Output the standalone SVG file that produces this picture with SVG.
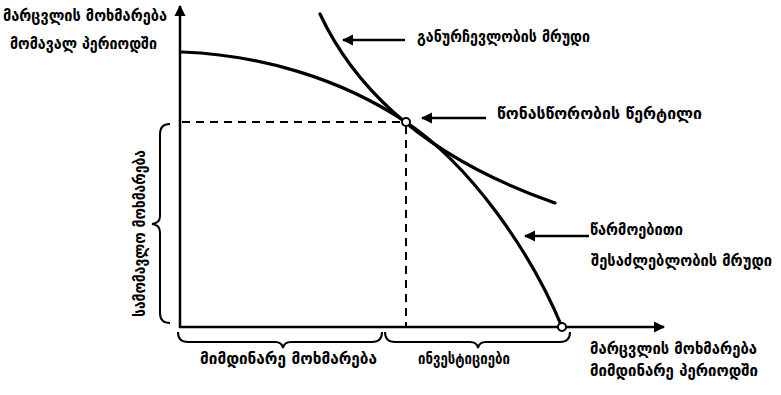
<svg xmlns="http://www.w3.org/2000/svg" width="781" height="395" viewBox="0 0 781 395">
<style>
.t{font-family:"DejaVu Sans",sans-serif;font-size:15.5px;font-weight:bold;fill:#000}
.ax{stroke:#000;stroke-width:2.5;fill:none}
.cv{stroke:#000;stroke-width:3.2;fill:none;stroke-linecap:round}
.ds{stroke:#000;stroke-width:2;fill:none;stroke-dasharray:8,6}
.br{stroke:#000;stroke-width:2;fill:none}
.ar{stroke:#000;stroke-width:2.5;fill:none}
.pt{fill:#fff;stroke:#000;stroke-width:2}
</style>
<defs>
<marker id="ah" viewBox="0 0 10 10" refX="9" refY="5" markerWidth="4.5" markerHeight="4.5" orient="auto" markerUnits="strokeWidth">
<path d="M0,0 L10,5 L0,10 z" fill="#000"/>
</marker>
</defs>
<g id="connectors">
<line class="ax" x1="180" y1="328" x2="180" y2="6" marker-end="url(#ah)"/>
<line class="ax" x1="179" y1="327" x2="664" y2="327" marker-end="url(#ah)"/>
<line class="ds" x1="182" y1="122" x2="402" y2="122"/>
<line class="ds" x1="406" y1="126" x2="406" y2="326"/>
<path id="ppf" class="cv" d="M182,52 C260,55 340,78 406,122 C470,165 530,250 562,327"/>
<path id="indiff" class="cv" d="M320,14 C358,95 432,160 555,203"/>
<line class="ar" x1="405" y1="40" x2="343" y2="40" marker-end="url(#ah)"/>
<line class="ar" x1="486" y1="118" x2="422" y2="118" marker-end="url(#ah)"/>
<line class="ar" x1="589" y1="236" x2="525" y2="236" marker-end="url(#ah)"/>
<path class="br" d="M170,124 Q160,124 160,134 L160,216 Q160,223 152,224 Q160,225 160,232 L160,313 Q160,323 170,323"/>
<path class="br" d="M178,332 Q178,342 188,342 L275,342 Q282,342 283,348 Q284,342 291,342 L372,342 Q382,342 382,332"/>
<path class="br" d="M385,332 Q385,342 395,342 L470,342 Q477,342 478,348 Q479,342 486,342 L560,342 Q570,342 570,332"/>
</g>
<g id="equilibrium"><circle class="pt" cx="406" cy="122" r="4"/></g>
<g id="ppf-end"><circle class="pt" cx="562" cy="327" r="4"/></g>
<g id="label-y">
<text class="t" x="3" y="21" textLength="164" lengthAdjust="spacingAndGlyphs">მარცვლის მოხმარება</text>
<text class="t" x="10" y="49" textLength="147" lengthAdjust="spacingAndGlyphs">მომავალ პერიოდში</text>
</g>
<g id="label-indiff"><text class="t" x="417" y="42" textLength="173" lengthAdjust="spacingAndGlyphs">განურჩევლობის მრუდი</text></g>
<g id="label-eq"><text class="t" x="497" y="119" textLength="205" lengthAdjust="spacingAndGlyphs">წონასწორობის წერტილი</text></g>
<g id="label-ppf">
<text class="t" x="590" y="235" textLength="93" lengthAdjust="spacingAndGlyphs">წარმოებითი</text>
<text class="t" x="591" y="266" textLength="181" lengthAdjust="spacingAndGlyphs">შესაძლებლობის მრუდი</text>
</g>
<g id="label-future"><text class="t" transform="translate(145,317) rotate(-90)" textLength="167" lengthAdjust="spacingAndGlyphs">სამომავლო მოხმარება</text></g>
<g id="label-current"><text class="t" x="200" y="364" textLength="177" lengthAdjust="spacingAndGlyphs">მიმდინარე მოხმარება</text></g>
<g id="label-invest"><text class="t" x="418" y="364" textLength="92" lengthAdjust="spacingAndGlyphs">ინვესტიციები</text></g>
<g id="label-x">
<text class="t" x="590" y="354" textLength="167" lengthAdjust="spacingAndGlyphs">მარცვლის მოხმარება</text>
<text class="t" x="590" y="376" textLength="168" lengthAdjust="spacingAndGlyphs">მიმდინარე პერიოდში</text>
</g>
</svg>
